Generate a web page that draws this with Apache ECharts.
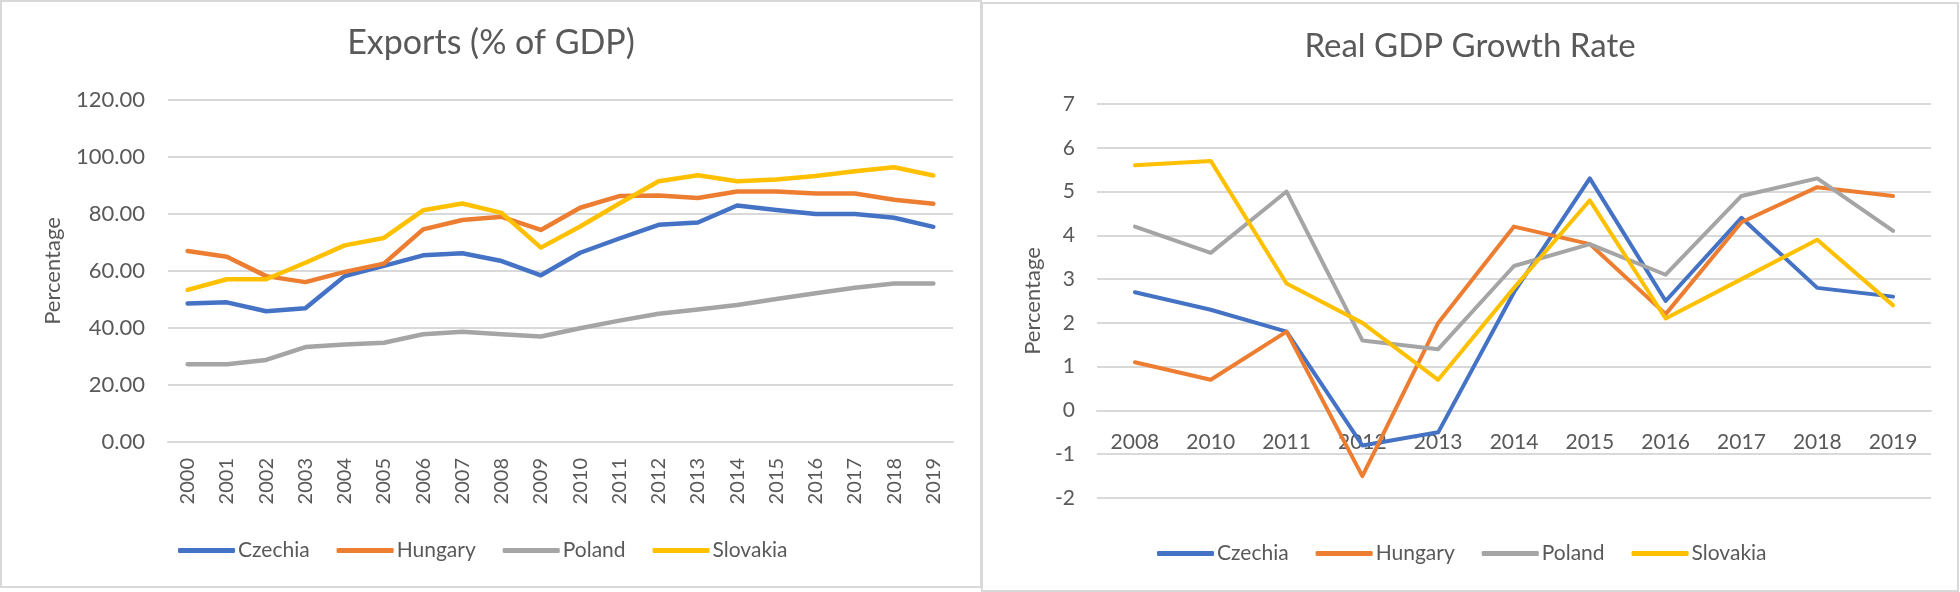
<!DOCTYPE html>
<html>
<head>
<meta charset="utf-8">
<script src="https://cdn.jsdelivr.net/npm/echarts@6/dist/echarts.min.js"></script>
<style>
    html, body { margin: 0; padding: 0; background: #ffffff; }
    body { width: 1960px; height: 592px; position: relative; overflow: hidden; }
    .panel { position: absolute; box-sizing: border-box; border: 2px solid #d9d9d9; background: #ffffff; }
    #exports { left: 0; top: 0; width: 982px; height: 588px; }
    #growth { left: 981px; top: 2px; width: 978px; height: 590px; }
</style>
</head>
<body>
<div id="exports" class="panel"></div>
<div id="growth" class="panel"></div>
<script>
// --- data ---
var countries = ['Czechia', 'Hungary', 'Poland', 'Slovakia'];
var colors = ['#4472c4', '#ed7d31', '#a5a5a5', '#ffc000'];

var exportYears = ['2000', '2001', '2002', '2003', '2004', '2005', '2006', '2007', '2008', '2009',
    '2010', '2011', '2012', '2013', '2014', '2015', '2016', '2017', '2018', '2019'];
var exportsCzechia = [48.6, 49.0, 45.9, 46.9, 58.2, 61.8, 65.5, 66.2, 63.5, 58.5,
    66.4, 71.4, 76.2, 77.0, 83.0, 81.4, 80.0, 80.0, 78.7, 75.5];
var exportsHungary = [67.0, 65.0, 58.2, 56.1, 59.7, 62.6, 74.6, 77.9, 79.0, 74.4,
    82.2, 86.3, 86.5, 85.6, 87.9, 87.9, 87.2, 87.2, 85.0, 83.6];
var exportsPoland = [27.3, 27.3, 28.8, 33.3, 34.2, 34.8, 37.8, 38.7, 37.8, 37.0,
    39.9, 42.6, 45.0, 46.5, 48.1, 50.2, 52.2, 54.1, 55.6, 55.6];
var exportsSlovakia = [53.4, 57.1, 57.1, 62.9, 69.0, 71.6, 81.3, 83.7, 80.4, 68.2,
    75.6, 83.7, 91.5, 93.6, 91.5, 92.1, 93.3, 95.0, 96.4, 93.5];

var growthYears = ['2008', '2010', '2011', '2012', '2013', '2014', '2015', '2016', '2017', '2018', '2019'];
var growthCzechia = [2.7, 2.3, 1.8, -0.8, -0.5, 2.7, 5.3, 2.5, 4.4, 2.8, 2.6];
var growthHungary = [1.1, 0.7, 1.8, -1.5, 2.0, 4.2, 3.8, 2.2, 4.3, 5.1, 4.9];
var growthPoland = [4.2, 3.6, 5.0, 1.6, 1.4, 3.3, 3.8, 3.1, 4.9, 5.3, 4.1];
var growthSlovakia = [5.6, 5.7, 2.9, 2.0, 0.7, 2.8, 4.8, 2.1, 3.0, 3.9, 2.4];

var FONT = 'Lato';
var TEXT = '#595959';
var GRID_LINE = '#d9d9d9';

function makeSeries(list, width) {
    var out = [];
    for (var i = 0; i < list.length; i++) {
        out.push({
            name: countries[i],
            type: 'line',
            data: list[i],
            symbol: 'none',
            smooth: false,
            lineStyle: { width: width, color: colors[i], cap: 'round', join: 'round' },
            itemStyle: { color: colors[i] }
        });
    }
    return out;
}

function legendOpt(left, top) {
    return {
        left: left, top: top,
        icon: 'roundRect',
        itemWidth: 57, itemHeight: 5,
        itemGap: 27,
        textStyle: { fontFamily: FONT, fontSize: 21, color: TEXT, padding: [0, 0, 0, -2] },
        data: countries
    };
}

// exports chart
var chartA = echarts.init(document.getElementById('exports'), null, { renderer: 'canvas' });
chartA.setOption({
    animation: false,
    color: colors,
    title: {
        text: 'Exports (% of GDP)', left: 'center', top: 19,
        textStyle: { fontFamily: FONT, fontSize: 34, fontWeight: 'normal', color: TEXT }
    },
    legend: legendOpt(171, 533),
    grid: { left: 166, top: 98, width: 785, height: 342 },
    xAxis: {
        type: 'category', data: exportYears, boundaryGap: true,
        axisLine: { show: true, lineStyle: { color: GRID_LINE, width: 2 } },
        axisTick: { show: false },
        axisLabel: { rotate: 90, margin: 16, fontFamily: FONT, fontSize: 20, color: TEXT }
    },
    yAxis: {
        type: 'value', min: 0, max: 120, interval: 20,
        name: 'Percentage', nameLocation: 'middle', nameGap: 104,
        nameTextStyle: { fontFamily: FONT, fontSize: 22, color: TEXT },
        axisLine: { show: false }, axisTick: { show: false },
        axisLabel: {
            margin: 23, fontFamily: FONT, fontSize: 22, color: TEXT,
            formatter: function (v) { return v.toFixed(2); }
        },
        splitLine: { lineStyle: { color: GRID_LINE, width: 2 } }
    },
    series: makeSeries([exportsCzechia, exportsHungary, exportsPoland, exportsSlovakia], 4.5)
});

// growth chart: the category axis sits on the zero line, as in the picture
var growthMin = -2, growthMax = 7, growthPlotHeight = 394;
var chartB = echarts.init(document.getElementById('growth'), null, { renderer: 'canvas' });
chartB.setOption({
    animation: false,
    color: colors,
    title: {
        text: 'Real GDP Growth Rate', left: 'center', top: 21,
        textStyle: { fontFamily: FONT, fontSize: 33, fontWeight: 'normal', color: TEXT }
    },
    legend: legendOpt(169, 534),
    grid: { left: 114, top: 100, width: 834, height: growthPlotHeight },
    xAxis: {
        type: 'category', data: growthYears, boundaryGap: true,
        offset: growthMin * growthPlotHeight / (growthMax - growthMin),
        axisLine: { show: true, onZero: false, lineStyle: { color: GRID_LINE, width: 2 } },
        axisTick: { show: false },
        axisLabel: { margin: 21, fontFamily: FONT, fontSize: 21, color: TEXT }
    },
    yAxis: {
        type: 'value', min: growthMin, max: growthMax, interval: 1,
        name: 'Percentage', nameLocation: 'middle', nameGap: 52,
        nameTextStyle: { fontFamily: FONT, fontSize: 22, color: TEXT },
        axisLine: { show: false }, axisTick: { show: false },
        axisLabel: { margin: 22, fontFamily: FONT, fontSize: 21, color: TEXT },
        splitLine: { lineStyle: { color: GRID_LINE, width: 2 } }
    },
    series: makeSeries([growthCzechia, growthHungary, growthPoland, growthSlovakia], 4)
});
</script>
</body>
</html>
